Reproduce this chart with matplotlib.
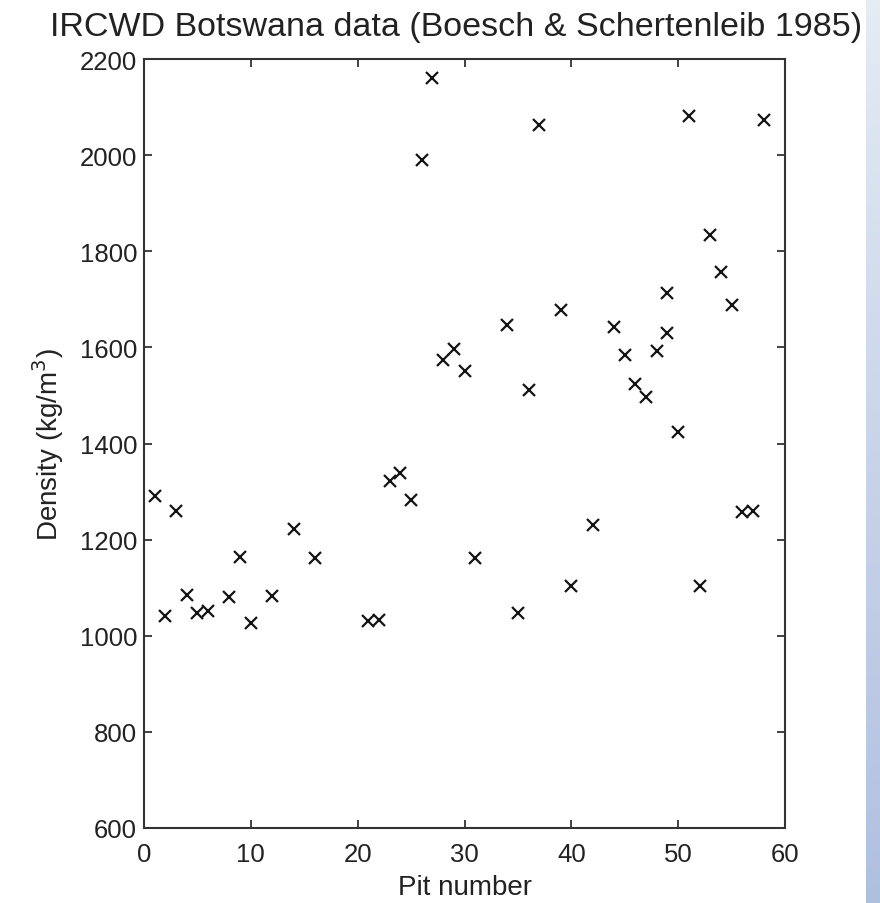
import numpy as np
import matplotlib
matplotlib.use("Agg")
from matplotlib import pyplot as plt
from matplotlib.colors import LinearSegmentedColormap

# pit number and measured sludge density
pit = [1, 2, 3, 4, 5, 6, 8, 9, 10, 12, 14, 16, 21, 22, 23, 24, 25, 26, 27, 28,
       29, 30, 31, 34, 35, 36, 37, 39, 40, 42, 44, 45, 46, 47, 48, 49, 49, 50,
       51, 52, 53, 54, 55, 56, 57, 58]
density = [1290, 1042, 1260, 1085, 1047, 1051, 1081, 1163, 1026, 1083, 1223,
           1161, 1031, 1032, 1323, 1338, 1283, 1990, 2160, 1574, 1597, 1551,
           1161, 1646, 1047, 1511, 2063, 1678, 1104, 1230, 1642, 1584, 1524,
           1496, 1593, 1713, 1629, 1423, 2082, 1104, 1834, 1757, 1689, 1258,
           1260, 2073]

plt.rcParams['font.family'] = ['Liberation Sans', 'DejaVu Sans']

fig = plt.figure(figsize=(8.8, 9.04), dpi=100)

# light blue strip on the right edge
strip = fig.add_axes([866 / 880, 0, 14 / 880, 1])
grad = np.linspace(0, 1, 256).reshape(-1, 1)
cmap = LinearSegmentedColormap.from_list("bl", ["#e6ebf4", "#c9d4ea", "#afc0df"])
strip.imshow(grad, aspect="auto", cmap=cmap, extent=[0, 1, 1, 0])
strip.axis("off")

ax = fig.add_axes([144 / 880, 1 - 829 / 904, 641 / 880, 769 / 904])
ax.plot(pit, density, 'x', color="#141414", markersize=9, markeredgewidth=1.6)

ax.set_xlim(0, 60)
ax.set_ylim(600, 2200)
ax.set_xticks(range(0, 61, 10))
ax.set_yticks(range(600, 2201, 200))
ax.tick_params(direction="in", top=True, right=True, length=6, width=1.3,
               color="#333333", labelsize=18.5, labelcolor="#222222")
ax.tick_params(axis="y", pad=5)
ax.tick_params(axis="x", pad=10)
for s in ax.spines.values():
    s.set_linewidth(1.5)
    s.set_color("#333333")

ax.set_xlabel("Pit number", fontsize=20, color="#222222", labelpad=6)
ax.set_ylabel("Density (kg/m$^3$)", fontsize=20, color="#222222", labelpad=10)
ax.set_title("IRCWD Botswana data (Boesch & Schertenleib 1985)", fontsize=24.5,
             color="#222222", pad=17, x=0.487)

fig.savefig("out.png", dpi=100)
